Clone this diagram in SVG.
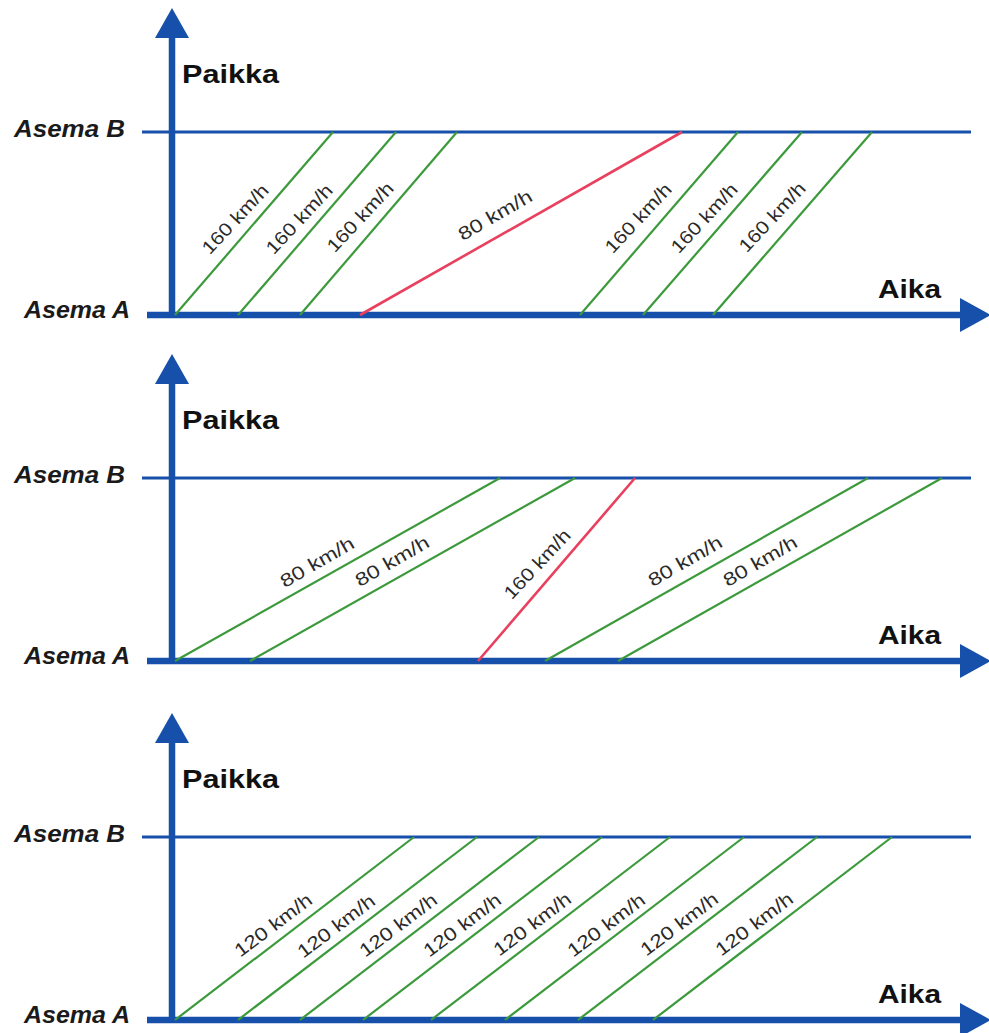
<svg xmlns="http://www.w3.org/2000/svg" width="989" height="1033" viewBox="0 0 989 1033">
<style>
.axis{stroke:#1650aa;stroke-width:6.5;fill:none}
.sta{stroke:#1650aa;stroke-width:3;fill:none}
.head{fill:#1650aa}
.g{stroke:#3c9a3c;stroke-width:2.2;fill:none}
.r{stroke:#e8405e;stroke-width:2.6;fill:none}
.ttl{font-family:"Liberation Sans",Arial,sans-serif;font-weight:bold;font-size:25px;fill:#111}
.st{font-family:"Liberation Sans",Arial,sans-serif;font-weight:bold;font-style:italic;font-size:23px;fill:#1a1a1a}
.lb{font-family:"Liberation Sans",Arial,sans-serif;font-size:18.5px;fill:#2a2a2a;text-anchor:middle;dominant-baseline:central}
</style>
<defs>
<g id="frame">
<line class="sta" x1="142" y1="132" x2="971" y2="132"/>
<line class="axis" x1="172" y1="318" x2="172" y2="34"/>
<polygon class="head" points="172,8 189,38 155,38"/>
<line class="axis" x1="147" y1="315" x2="964" y2="315"/>
<polygon class="head" points="991,315 960,298 960,332"/>
<text class="ttl" x="182" y="83" textLength="97" lengthAdjust="spacingAndGlyphs">Paikka</text>
<text class="ttl" x="878" y="298" textLength="63" lengthAdjust="spacingAndGlyphs" style="font-size:26px">Aika</text>
<text class="st" x="14" y="137" textLength="111" lengthAdjust="spacingAndGlyphs">Asema B</text>
<text class="st" x="24" y="318" textLength="106" lengthAdjust="spacingAndGlyphs">Asema A</text>
</g>
</defs>

<g id="panel1">
<use href="#frame"/>
<g id="trains1">
<line class="g" x1="175" y1="315" x2="333" y2="132"/>
<line class="g" x1="238" y1="315" x2="396" y2="132"/>
<line class="g" x1="300" y1="315" x2="457" y2="132"/>
<line class="r" x1="360" y1="315" x2="682" y2="132"/>
<line class="g" x1="580" y1="315" x2="738" y2="132"/>
<line class="g" x1="643" y1="315" x2="802" y2="132"/>
<line class="g" x1="713" y1="315" x2="872" y2="132"/>
</g>
<g id="labels1">
<text class="lb" transform="translate(235,219) rotate(-47)" textLength="88" lengthAdjust="spacingAndGlyphs">160 km/h</text>
<text class="lb" transform="translate(299,219) rotate(-47)" textLength="88" lengthAdjust="spacingAndGlyphs">160 km/h</text>
<text class="lb" transform="translate(360,217) rotate(-47)" textLength="88" lengthAdjust="spacingAndGlyphs">160 km/h</text>
<text class="lb" transform="translate(495,215) rotate(-30)" textLength="82" lengthAdjust="spacingAndGlyphs">80 km/h</text>
<text class="lb" transform="translate(638,218) rotate(-47)" textLength="88" lengthAdjust="spacingAndGlyphs">160 km/h</text>
<text class="lb" transform="translate(704,218) rotate(-47)" textLength="88" lengthAdjust="spacingAndGlyphs">160 km/h</text>
<text class="lb" transform="translate(772,217) rotate(-47)" textLength="88" lengthAdjust="spacingAndGlyphs">160 km/h</text>
</g>
</g>

<g id="panel2" transform="translate(0,346)">
<use href="#frame"/>
<g id="trains2">
<line class="g" x1="175" y1="315" x2="500" y2="132"/>
<line class="g" x1="250" y1="315" x2="575" y2="132"/>
<line class="r" x1="478" y1="315" x2="635" y2="132"/>
<line class="g" x1="545" y1="315" x2="868" y2="132"/>
<line class="g" x1="618" y1="315" x2="942" y2="132"/>
</g>
<g id="labels2">
<text class="lb" transform="translate(317,216) rotate(-30)" textLength="82" lengthAdjust="spacingAndGlyphs">80 km/h</text>
<text class="lb" transform="translate(392,215) rotate(-30)" textLength="82" lengthAdjust="spacingAndGlyphs">80 km/h</text>
<text class="lb" transform="translate(537,218) rotate(-47)" textLength="88" lengthAdjust="spacingAndGlyphs">160 km/h</text>
<text class="lb" transform="translate(685,215) rotate(-30)" textLength="82" lengthAdjust="spacingAndGlyphs">80 km/h</text>
<text class="lb" transform="translate(760,215) rotate(-30)" textLength="82" lengthAdjust="spacingAndGlyphs">80 km/h</text>
</g>
</g>

<g id="panel3" transform="translate(0,705)">
<use href="#frame"/>
<g id="trains3">
<line class="g" x1="175" y1="315" x2="414" y2="132"/>
<line class="g" x1="238" y1="315" x2="477" y2="132"/>
<line class="g" x1="300" y1="315" x2="539" y2="132"/>
<line class="g" x1="363" y1="315" x2="602" y2="132"/>
<line class="g" x1="431" y1="315" x2="670" y2="132"/>
<line class="g" x1="505" y1="315" x2="744" y2="132"/>
<line class="g" x1="578" y1="315" x2="817" y2="132"/>
<line class="g" x1="653" y1="315" x2="892" y2="132"/>
</g>
<g id="labels3">
<text class="lb" transform="translate(273,220) rotate(-37)" textLength="92" lengthAdjust="spacingAndGlyphs">120 km/h</text>
<text class="lb" transform="translate(336,221) rotate(-37)" textLength="92" lengthAdjust="spacingAndGlyphs">120 km/h</text>
<text class="lb" transform="translate(398,220) rotate(-37)" textLength="92" lengthAdjust="spacingAndGlyphs">120 km/h</text>
<text class="lb" transform="translate(462,220) rotate(-37)" textLength="92" lengthAdjust="spacingAndGlyphs">120 km/h</text>
<text class="lb" transform="translate(532,219) rotate(-37)" textLength="92" lengthAdjust="spacingAndGlyphs">120 km/h</text>
<text class="lb" transform="translate(606,220) rotate(-37)" textLength="92" lengthAdjust="spacingAndGlyphs">120 km/h</text>
<text class="lb" transform="translate(679,219) rotate(-37)" textLength="92" lengthAdjust="spacingAndGlyphs">120 km/h</text>
<text class="lb" transform="translate(754,219) rotate(-37)" textLength="92" lengthAdjust="spacingAndGlyphs">120 km/h</text>
</g>
</g>
</svg>
